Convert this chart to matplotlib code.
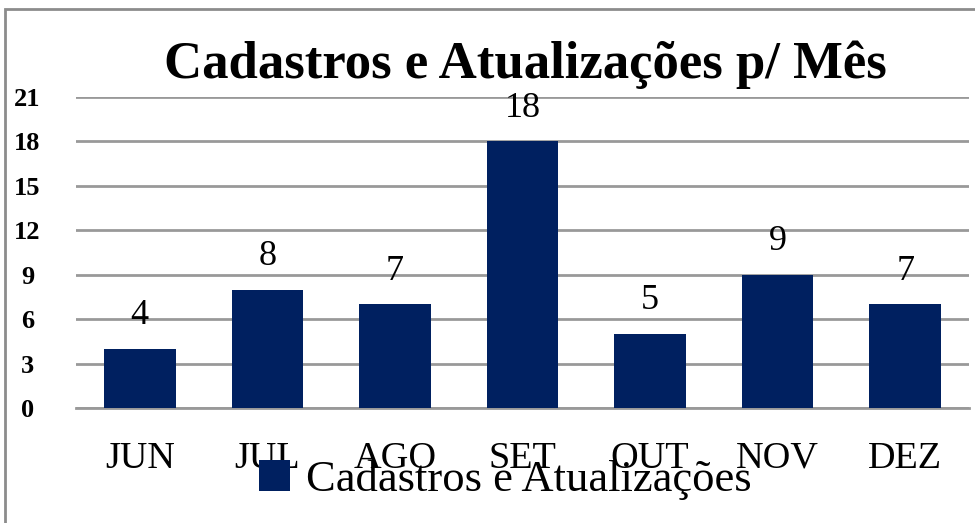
import matplotlib
matplotlib.use("Agg")
import matplotlib.pyplot as plt
from matplotlib.patches import Rectangle

months = ["JUN", "JUL", "AGO", "SET", "OUT", "NOV", "DEZ"]
values = [4, 8, 7, 18, 5, 9, 7]
yticks = [0, 3, 6, 9, 12, 15, 18, 21]
title = "Cadastros e Atualizações p/ Mês"
series_name = "Cadastros e Atualizações"

bar_color = "#002060"
grid_color = "#999999"
serif = ["Liberation Serif", "DejaVu Serif"]

fig = plt.figure(figsize=(9.75, 5.23), dpi=100)
fig.patch.set_facecolor("white")
# partial gray frame (left + top visible)
fig.add_artist(Rectangle((5 / 975, -0.1), 1.2, (1 - 9 / 523) + 0.1, transform=fig.transFigure,
                         fill=False, edgecolor="#8c8c8c", linewidth=2))

ax = fig.add_axes([76 / 975, 1 - 408 / 523, 893 / 975, (408 - 97) / 523])
x = list(range(len(months)))
bars = ax.bar(x, values, width=0.56, color=bar_color, zorder=3, label=series_name)
ax.set_xlim(-0.5, len(months) - 0.5)
ax.set_ylim(0, 21)
ax.set_yticks(yticks)
ax.set_yticklabels([str(t) for t in yticks], fontfamily=serif, fontsize=19, fontweight="bold")
ax.set_xticks(x)
ax.set_xticklabels(months, fontfamily=serif, fontsize=27.5)
ax.tick_params(axis="x", length=0, pad=24)
ax.tick_params(axis="y", length=0, pad=35)
for lab in ax.get_yticklabels():
    lab.set_horizontalalignment("center")
ax.grid(axis="y", color=grid_color, linewidth=2, zorder=0)
for s in ["top", "right", "left"]:
    ax.spines[s].set_visible(False)
ax.spines["bottom"].set_color(grid_color)
ax.spines["bottom"].set_linewidth(2)

for xi, v in zip(x, values):
    ax.annotate(str(v), (xi, v), xytext=(0, 12), textcoords="offset points",
                ha="center", va="bottom", fontfamily=serif, fontsize=26)

fig.text(525 / 975, 1 - 65 / 523, title, ha="center", va="center",
         fontfamily=serif, fontsize=38, fontweight="bold")

leg = fig.legend(handles=[bars], labels=[series_name], loc="center",
                 bbox_to_anchor=(505 / 975, 1 - 480 / 523), frameon=False,
                 prop={"family": serif, "size": 32}, handlelength=0.7, handleheight=0.7,
                 handletextpad=0.35, borderpad=0)

fig.savefig("out.png", dpi=100)
